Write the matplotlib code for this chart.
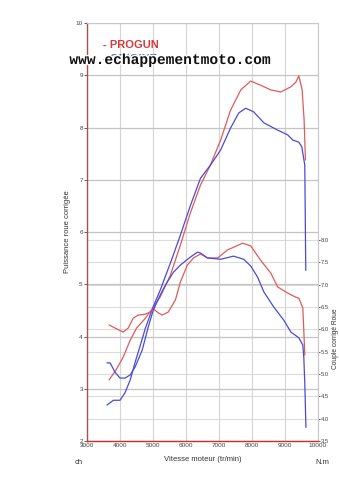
import matplotlib
matplotlib.use("Agg")
import matplotlib.pyplot as plt
import matplotlib.patheffects as pe

plt.rcParams["font.family"] = ["Liberation Sans", "DejaVu Sans"]

# power curves (ch) -- left axis
rpm_pw_red = [3670, 3880, 4100, 4310, 4500, 4770, 5000, 5220, 5530, 5830, 6130,
              6440, 6740, 7050, 7350, 7660, 7960, 8260, 8570, 8870, 9180, 9330,
              9420, 9520, 9580, 9620]
pw_red = [3.17, 3.36, 3.61, 3.93, 4.16, 4.35, 4.55, 4.76, 5.18, 5.75, 6.36,
          6.90, 7.28, 7.76, 8.33, 8.72, 8.89, 8.81, 8.72, 8.68, 8.78, 8.87,
          8.99, 8.72, 8.14, 7.38]

rpm_pw_blue = [3610, 3800, 4000, 4150, 4310, 4460, 4620, 4770, 5000, 5220, 5530,
               5830, 6130, 6440, 6740, 7050, 7350, 7600, 7810, 8050, 8360, 8780,
               9080, 9240, 9420, 9510, 9600, 9630]
pw_blue = [2.69, 2.78, 2.78, 2.92, 3.17, 3.51, 3.84, 4.16, 4.56, 4.89, 5.41,
           5.94, 6.50, 7.03, 7.28, 7.57, 7.99, 8.28, 8.37, 8.30, 8.09, 7.95,
           7.86, 7.76, 7.72, 7.63, 7.28, 5.27]

# torque curves (N.m) -- right axis
rpm_tq_red = [3670, 3850, 4095, 4250, 4400, 4550, 4765, 4917, 5008, 5160, 5280,
              5465, 5680, 5830, 6040, 6230, 6440, 6650, 6960, 7260, 7720, 7960,
              8260, 8570, 8780, 9090, 9330, 9420, 9540, 9570, 9600]
tq_red = [6.10, 6.03, 5.94, 6.03, 6.25, 6.32, 6.34, 6.39, 6.46, 6.37, 6.32,
          6.39, 6.66, 7.06, 7.44, 7.60, 7.69, 7.60, 7.60, 7.78, 7.93, 7.87,
          7.55, 7.26, 6.95, 6.81, 6.72, 6.70, 6.48, 5.98, 5.43]

rpm_tq_blue = [3610, 3700, 3850, 4000, 4155, 4310, 4460, 4675, 4855, 5008, 5220,
               5375, 5620, 5830, 6135, 6350, 6440, 6650, 7050, 7440, 7750, 7960,
               8170, 8360, 8660, 8960, 9180, 9420, 9540, 9570, 9600, 9635]
tq_blue = [5.25, 5.25, 5.04, 4.91, 4.91, 4.98, 5.16, 5.54, 6.05, 6.43, 6.77,
           6.99, 7.28, 7.44, 7.62, 7.73, 7.71, 7.60, 7.57, 7.64, 7.57, 7.42,
           7.17, 6.84, 6.50, 6.21, 5.94, 5.81, 5.65, 5.38, 4.80, 3.81]

x_ticks = [3000, 4000, 5000, 6000, 7000, 8000, 9000, 10000]
left_ticks = [2, 3, 4, 5, 6, 7, 8, 9, 10]
right_ticks = [3.5, 4.0, 4.5, 5.0, 5.5, 6.0, 6.5, 7.0, 7.5, 8.0]

RED = "#e05a5a"
BLUE = "#4a4ad8"

fig = plt.figure(figsize=(3.39, 4.80), dpi=100)
ax = fig.add_axes([0.2566, 0.0812, 0.6814, 0.8708])
ax2 = ax.twinx()
# right axis drawn behind, left axis on top with transparent background
ax2.set_zorder(0)
ax.set_zorder(1)
ax.patch.set_visible(False)

ax.set_xlim(3000, 10000)
ax.set_ylim(2, 10)
ax2.set_ylim(3.5, 12.86)

ax.set_xticks(x_ticks)
ax.set_xticklabels([str(v) for v in x_ticks])
ax.set_yticks(left_ticks)
ax2.set_yticks(right_ticks)
ax2.set_yticklabels([f"{v:.1f}" for v in right_ticks])

ax.grid(True, axis="x", color="#d4d4d4", lw=0.8)
ax.grid(True, axis="y", color="#c4c4c4", lw=0.9)
ax2.grid(True, axis="y", color="#dcdcdc", lw=0.8)

for a in (ax, ax2):
    a.tick_params(labelsize=4.6, colors="#444444", length=2, width=0.6, pad=1)
    for s in a.spines.values():
        s.set_visible(False)
ax2.tick_params(labelsize=4.2, length=1.5, pad=0.5)
ax.spines["left"].set_visible(True)
ax.spines["left"].set_color("#a85050")
ax.spines["left"].set_linewidth(1.0)
ax.spines["bottom"].set_visible(True)
ax.spines["bottom"].set_color("#c83030")
ax.spines["bottom"].set_linewidth(1.0)
ax.spines["top"].set_visible(True)
ax.spines["top"].set_color("#c8c8c8")
ax.spines["right"].set_visible(True)
ax.spines["right"].set_color("#c8c8c8")
ax.tick_params(axis="x", length=0, pad=1.5)

ax.plot(rpm_pw_red, pw_red, color=RED, lw=0.9)
ax.plot(rpm_pw_blue, pw_blue, color=BLUE, lw=0.9)
ax.plot(rpm_tq_red, tq_red, color=RED, lw=0.9, transform=ax2.transData)
ax.plot(rpm_tq_blue, tq_blue, color=BLUE, lw=0.9, transform=ax2.transData)

ax.set_ylabel("Puissance roue corrigée", fontsize=5.5, color="#333333", labelpad=3)
ax2.set_ylabel("Couple corrigé Roue", fontsize=4.8, color="#333333")
ax2.yaxis.set_label_coords(1.06, 0.245)
ax.set_xlabel("Vitesse moteur (tr/min)", fontsize=5.5, color="#333333", labelpad=6)

fig.text(79 / 339, 1 - 463 / 480, "ch", fontsize=5.5, color="#333333",
         ha="center", va="center")
fig.text(322 / 339, 1 - 463 / 480, "N.m", fontsize=5.5, color="#333333",
         ha="center", va="center")

fig.text(103 / 339, 1 - 45 / 480, "- PROGUN", fontsize=8, fontweight="bold",
         color="#d83a3a", ha="left", va="center")
fig.text(103 / 339, 1 - 59 / 480, "- ORIGINE", fontsize=8, fontweight="bold",
         color="#5a6ad0", ha="left", va="center")

wm = fig.text(170 / 339, 1 - 60 / 480, "www.echappementmoto.com",
              family="Liberation Mono", fontsize=10.5, fontweight="bold",
              color="#111111", ha="center", va="center")
wm.set_path_effects([pe.withStroke(linewidth=2, foreground="white")])

fig.savefig("out.png", dpi=100)
